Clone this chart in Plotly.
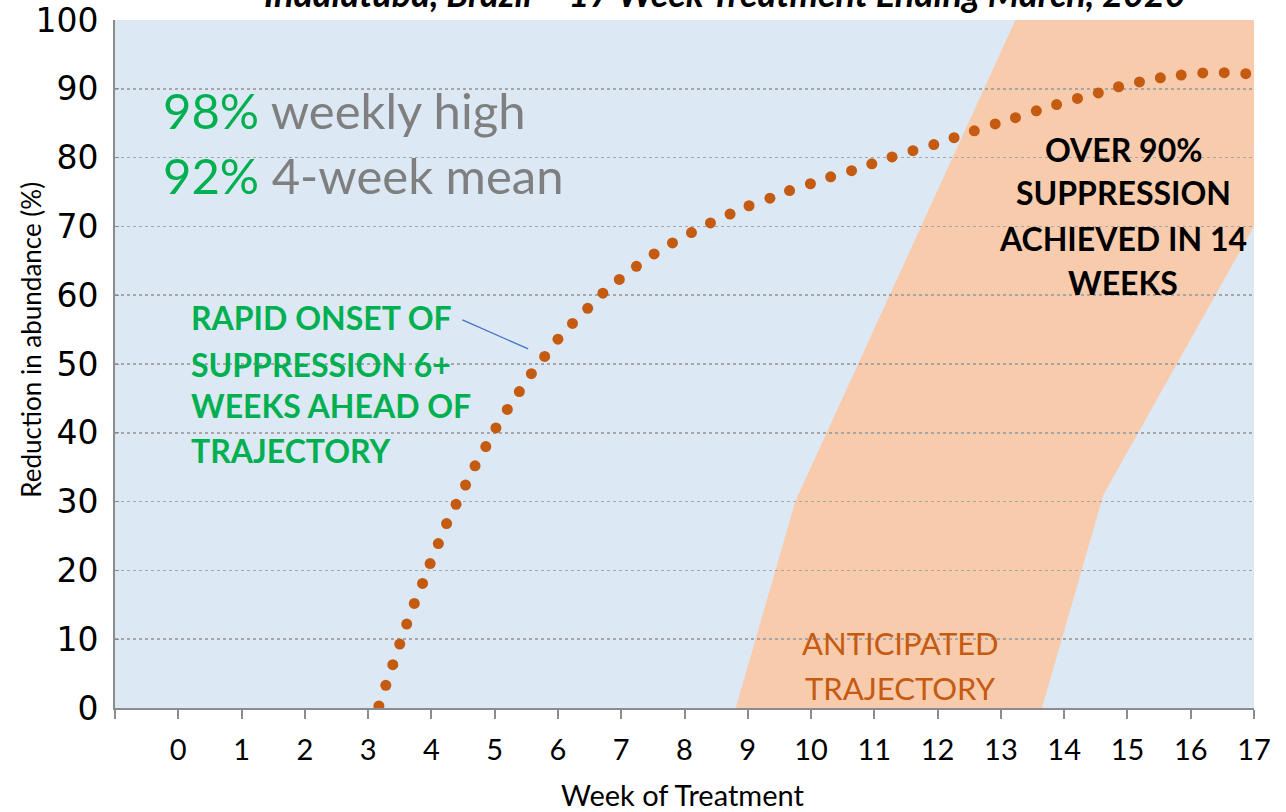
import plotly.graph_objects as go

# ---------------- data ----------------
week_ticks = list(range(-1, 18))
week_labels = [""] + [str(w) for w in range(0, 18)]
y_ticks = list(range(0, 101, 10))

dots_week = [3.17, 3.28, 3.39, 3.50, 3.61, 3.73, 3.86, 3.98, 4.11, 4.24, 4.39, 4.54, 4.69,
             4.86, 5.02, 5.20, 5.39, 5.58, 5.79, 6.00, 6.23, 6.47, 6.71, 6.97, 7.24, 7.52,
             7.81, 8.11, 8.41, 8.72, 9.02, 9.35, 9.66, 9.99, 10.31, 10.64, 10.96, 11.28,
             11.61, 11.94, 12.26, 12.58, 12.91, 13.23, 13.56, 13.88, 14.21, 14.54, 14.86,
             15.19, 15.52, 15.85, 16.19, 16.53, 16.87]
dots_reduction = [0.3, 3.3, 6.3, 9.3, 12.2, 15.2, 18.1, 21.0, 23.9, 26.8, 29.6, 32.4, 35.2,
                  38.0, 40.7, 43.4, 46.0, 48.6, 51.1, 53.6, 55.9, 58.1, 60.3, 62.3, 64.2, 66.0,
                  67.6, 69.1, 70.5, 71.8, 73.0, 74.1, 75.2, 76.2, 77.2, 78.1, 79.1, 80.1,
                  81.0, 81.9, 82.9, 83.9, 84.9, 85.8, 86.8, 87.7, 88.6, 89.4, 90.3,
                  91.0, 91.6, 92.0, 92.3, 92.35, 92.2]

# anticipated trajectory band (polygon outline)
band_week = [8.81, 9.75, 13.23, 17.0, 17.0, 14.62, 13.65]
band_reduction = [0, 30, 100, 100, 70, 31, 0]

# annotation texts
title_text = "Indaiatuba, Brazil – 17 Week Treatment Ending March, 2020"
rapid_lines = ["RAPID ONSET OF", "SUPPRESSION 6+", "WEEKS AHEAD OF", "TRAJECTORY"]
rapid_line_y = [56.7, 50.0, 43.9, 37.5]
over_lines = ["OVER 90%", "SUPPRESSION", "ACHIEVED IN 14", "WEEKS"]
over_line_y = [81.15, 74.9, 68.2, 61.8]
antic_lines = ["ANTICIPATED", "TRAJECTORY"]
antic_line_y = [9.45, 2.9]

# ---------------- styles ----------------
BLUE_BG = "#DDE8F5"
BAND = "#F8CBAD"
DOT = "#C55A11"
GREEN = "#00B050"
GRAY = "#7F7F7F"
AXIS = "#8C8C8C"
GRID = "#A6A6A6"
SANS = "Lato, Carlito, Calibri, sans-serif"
YFONT = "DejaVu Sans, Verdana, sans-serif"

fig = go.Figure()

fig.add_trace(go.Scatter(
    x=dots_week, y=dots_reduction, mode="markers",
    marker=dict(color=DOT, size=11, line=dict(width=0)),
    hoverinfo="skip", showlegend=False,
))

# band as shape below the gridlines, path built from the band arrays
path = "M " + " L ".join(f"{x},{y}" for x, y in zip(band_week, band_reduction)) + " Z"
fig.add_shape(type="path", path=path, xref="x", yref="y",
              fillcolor=BAND, line=dict(width=0), layer="below")

# leader line
fig.add_shape(type="line", xref="x", yref="y", x0=4.49, y0=56.4, x1=5.53, y1=52.2,
              line=dict(color="#4472C4", width=1.3))

annotations = [
    dict(text="<b><i>" + title_text + "</i></b>",
         xref="paper", yref="paper", x=0.5356, y=1.0395, xanchor="center", yanchor="middle",
         showarrow=False, font=dict(family=SANS, size=36, color="black")),
    dict(text=f"<span style='color:{GREEN}'>98%</span> weekly high",
         xref="x", yref="y", x=-0.28, y=86.9, xanchor="left", yanchor="middle",
         showarrow=False, font=dict(family=SANS, size=49, color=GRAY)),
    dict(text=f"<span style='color:{GREEN}'>92%</span> 4-week mean",
         xref="x", yref="y", x=-0.28, y=77.4, xanchor="left", yanchor="middle",
         showarrow=False, font=dict(family=SANS, size=49, color=GRAY)),
    dict(text="Reduction in abundance (%)", textangle=-90,
         xref="paper", yref="paper", x=-0.074, y=0.535, xanchor="center", yanchor="middle",
         showarrow=False, font=dict(family=SANS, size=26, color="black")),
    dict(text="Week of Treatment",
         xref="paper", yref="paper", x=0.4985, y=-0.126, xanchor="center", yanchor="middle",
         showarrow=False, font=dict(family=SANS, size=29, color="black")),
]
for t, yv in zip(rapid_lines, rapid_line_y):
    annotations.append(dict(text=f"<b>{t}</b>", xref="x", yref="y", x=0.17, y=yv,
                            xanchor="left", yanchor="middle", showarrow=False,
                            font=dict(family=SANS, size=32, color=GREEN)))
for t, yv in zip(over_lines, over_line_y):
    annotations.append(dict(text=f"<b>{t}</b>", xref="x", yref="y", x=14.93, y=yv,
                            xanchor="center", yanchor="middle", showarrow=False,
                            font=dict(family=SANS, size=32, color="black")))
for t, yv in zip(antic_lines, antic_line_y):
    annotations.append(dict(text=t, xref="x", yref="y", x=11.41, y=yv,
                            xanchor="center", yanchor="middle", showarrow=False,
                            font=dict(family=SANS, size=31, color=DOT)))

fig.update_layout(
    width=1286, height=812,
    margin=dict(l=115, r=32, t=20, b=104, autoexpand=False),
    paper_bgcolor="white", plot_bgcolor=BLUE_BG,
    showlegend=False,
    annotations=annotations,
    xaxis=dict(range=[-1, 17], tickmode="array", tickvals=week_ticks, ticktext=week_labels,
               showgrid=False, zeroline=False, showline=True, linecolor=AXIS, linewidth=2,
               ticks="outside", ticklen=9, tickwidth=2, tickcolor=AXIS,
               ticklabelstandoff=6, automargin=False,
               tickfont=dict(family=SANS, size=29, color="black"), fixedrange=True),
    yaxis=dict(range=[0, 100], tickmode="array", tickvals=y_ticks,
               showgrid=True, gridcolor=GRID, gridwidth=1.5, griddash="dot",
               zeroline=False, showline=True, linecolor=AXIS, linewidth=2,
               ticks="inside", ticklen=4, tickwidth=1, tickcolor=AXIS,
               ticklabelstandoff=8, automargin=False,
               tickfont=dict(family=YFONT, size=33, color="black"), fixedrange=True),
)

fig.write_html("out.html", config={"displayModeBar": False, "staticPlot": True},
               post_script="document.body.style.margin='0';document.body.style.overflow='hidden';")
